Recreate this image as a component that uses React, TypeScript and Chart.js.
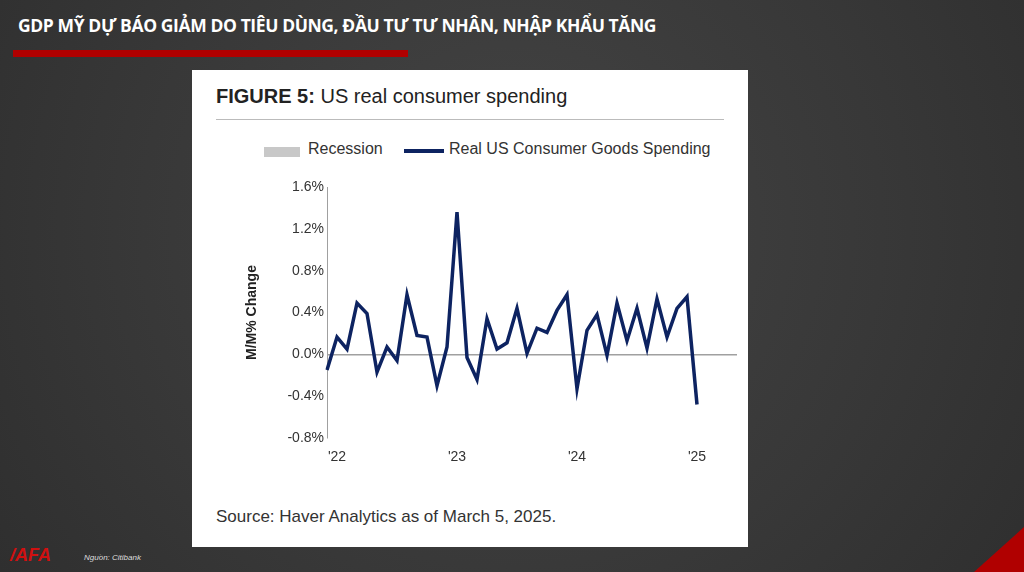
import React, { useEffect, useRef } from "react";
import { Chart, registerables } from "chart.js";
Chart.register(...registerables);

const months: string[] = [];
const startYear = 2021;
for (let i = 0; i < 42; i++) {
  const m = (11 + i) % 12;
  const y = startYear + Math.floor((11 + i) / 12);
  months.push(`${y}-${String(m + 1).padStart(2, "0")}`);
}
const spending: (number | null)[] = [
  -0.15, 0.165, 0.05, 0.49, 0.39, -0.17, 0.07, -0.06, 0.57, 0.18, 0.165, -0.3, 0.07,
  1.36, -0.03, -0.24, 0.34, 0.05, 0.11, 0.44, 0.01, 0.25, 0.21, 0.42, 0.57,
  -0.33, 0.23, 0.38, -0.01, 0.49, 0.13, 0.44, 0.06, 0.53, 0.165, 0.44, 0.55,
  -0.48, null, null, null, null,
];
const yearTicks: Record<string, string> = { "2022-01": "'22", "2023-01": "'23", "2024-01": "'24", "2025-01": "'25" };

export default function App() {
  const ref = useRef<HTMLCanvasElement>(null);
  useEffect(() => {
    document.body.style.margin = "0";
    const chart = new Chart(ref.current!, {
      type: "line",
      data: {
        labels: months,
        datasets: [{ data: spending, borderColor: "#0d2361", borderWidth: 3.5, pointRadius: 0, tension: 0, spanGaps: false }],
      },
      options: {
        animation: false,
        responsive: false,
        layout: { padding: { top: 12, right: 8 } },
        plugins: { legend: { display: false }, tooltip: { enabled: false } },
        scales: {
          x: {
            offset: false,
            grid: { display: false },
            border: { display: false },
            ticks: {
              autoSkip: false, maxRotation: 0, color: "#333", font: { family: "Liberation Sans", size: 14 },
              callback: (v: any, i: number) => yearTicks[months[i]] ?? "",
            },
            afterFit: (s: any) => { s.height = 37; },
          },
          y: {
            min: -0.8, max: 1.6,
            ticks: { stepSize: 0.4, color: "#333", font: { family: "Liberation Sans", size: 14 }, callback: (v: any) => Number(v).toFixed(1) + "%" },
            grid: {
              color: (c: any) => (c.tick && Math.abs(c.tick.value) < 1e-9 ? "#a0a0a0" : "rgba(0,0,0,0)"),
              drawTicks: false,
              lineWidth: 1.5,
            },
            border: { color: "#a0a0a0" },
            title: { display: true, text: "M/M% Change", color: "#222", font: { family: "Liberation Sans", size: 14, weight: "bold" } },
            afterFit: (s: any) => { s.width = 87; },
          },
        },
      },
    });
    return () => chart.destroy();
  }, []);

  return (
    <div style={{ position: "relative", width: 1024, height: 572, overflow: "hidden", background: "radial-gradient(circle at 50% 40%, #444 0%, #383838 60%, #2f2f2f 100%)", fontFamily: "Liberation Sans, Arial, sans-serif" }}>
      <div style={{ position: "absolute", left: 18, top: 13, color: "#fff", fontFamily: "Open Sans", fontWeight: 700, fontSize: 17.5, letterSpacing: -0.4 }}>
        GDP MỸ DỰ BÁO GIẢM DO TIÊU DÙNG, ĐẦU TƯ TƯ NHÂN, NHẬP KHẨU TĂNG
      </div>
      <div style={{ position: "absolute", left: 13, top: 50, width: 395, height: 7, background: "#b00000" }} />
      <div style={{ position: "absolute", left: 192, top: 70, width: 556, height: 477, background: "#fff" }}>
        <div style={{ position: "absolute", left: 24, top: 15, fontSize: 20, color: "#222" }}>
          <b>FIGURE 5:</b> US real consumer spending
        </div>
        <div style={{ position: "absolute", left: 24, top: 49, width: 508, height: 1, background: "#bbb" }} />
        <div style={{ position: "absolute", left: 72, top: 77, width: 36, height: 10, background: "#c8c8c8" }} />
        <div style={{ position: "absolute", left: 116, top: 70, fontSize: 16, color: "#333" }}>Recession</div>
        <div style={{ position: "absolute", left: 212, top: 79, width: 40, height: 4, background: "#0d2361" }} />
        <div style={{ position: "absolute", left: 257, top: 70, fontSize: 16, color: "#333" }}>Real US Consumer Goods Spending</div>
        <canvas ref={ref} width={505} height={300} style={{ position: "absolute", left: 48, top: 105 }} />
        <div style={{ position: "absolute", left: 24, top: 437, fontSize: 17, color: "#333" }}>Source: Haver Analytics as of March 5, 2025.</div>
      </div>
      <div style={{ position: "absolute", left: 10, top: 545, color: "#d01010", fontWeight: 700, fontStyle: "italic", fontSize: 18 }}>/AFA</div>
      <div style={{ position: "absolute", left: 84, top: 553, color: "#ddd", fontStyle: "italic", fontSize: 8 }}>Nguồn: Citibank</div>
      <div style={{ position: "absolute", right: 0, bottom: 0, width: 0, height: 0, borderLeft: "50px solid transparent", borderBottom: "45px solid #b00000" }} />
    </div>
  );
}
